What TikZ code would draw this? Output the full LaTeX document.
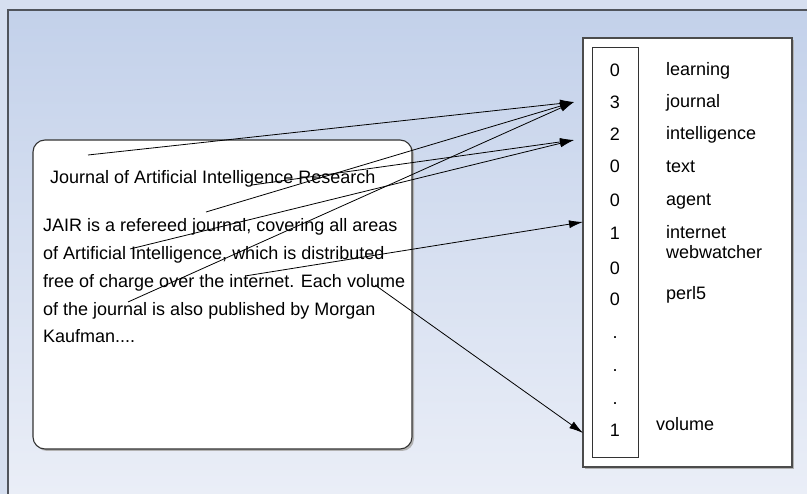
\documentclass[tikz,border=0pt]{standalone}
\usepackage{fontspec}
\setmainfont{Liberation Sans}
\usetikzlibrary{arrows.meta}
\definecolor{margin}{HTML}{D6DFF0}
\definecolor{gtop}{HTML}{C3D1EA}
\definecolor{gbot}{HTML}{EAEEF7}
\definecolor{frameline}{HTML}{50545C}
\begin{document}
\begin{tikzpicture}[x=1pt,y=-1pt,
  txt/.style={anchor=base west,inner sep=0pt,font=\fontsize{18}{22}\selectfont},
  num/.style={anchor=base,inner sep=0pt,font=\fontsize{18}{22}\selectfont},
  link/.style={draw=black,line width=0.8pt,-{Latex[length=14pt,width=8pt]}},
  panel/.style={draw=black!80,line width=1.1pt,fill=white}]
\useasboundingbox (0,0) rectangle (807,494);
\fill[margin] (0,0) rectangle (807,494);
\shade[top color=gtop,bottom color=gbot] (8,10) rectangle (807,494);
\draw[frameline,line width=1.5pt] (8,494) -- (8,10) -- (807,10);
% left document box
\fill[black!30,rounded corners=12pt] (35,142) rectangle (414,451);
\draw[panel,rounded corners=12pt] (33,140) rectangle (412,449);
\node[txt] (title) at (50,184) {Journal of Artificial Intelligence Research};
\node[txt] (p1) at (43,232) {JAIR is a refereed journal, covering all areas};
\node[txt] (p2) at (43,260) {of Artificial Intelligence, which is distributed};
\node[txt] (p3) at (43,288) {free of charge over the internet. Each volume};
\node[txt] (p4) at (43,316) {of the journal is also published by Morgan};
\node[txt] (p5) at (43,343) {Kaufman....};
% right vector box
\fill[black!30] (585,40) rectangle (794,469);
\draw[panel,draw=black!70] (583,38) rectangle (792,467);
\draw[black!80,line width=1pt] (592,48) rectangle (638,458);
\node[num] (n1) at (615,77) {0};
\node[num] (n2) at (615,109) {3};
\node[num] (n3) at (615,141) {2};
\node[num] (n4) at (615,173) {0};
\node[num] (n5) at (615,207) {0};
\node[num] (n6) at (615,240) {1};
\node[num] (n7) at (615,275) {0};
\node[num] (n8) at (615,306) {0};
\node[num] (d1) at (615,339) {.};
\node[num] (d2) at (615,372) {.};
\node[num] (d3) at (615,405) {.};
\node[num] (n9) at (615,437) {1};
\node[txt] (w1) at (666,76) {learning};
\node[txt] (w2) at (666,108) {journal};
\node[txt] (w3) at (666,140) {intelligence};
\node[txt] (w4) at (666,173) {text};
\node[txt] (w5) at (666,206) {agent};
\node[txt] (w6) at (666,239) {internet};
\node[txt] (w7) at (666,259) {webwatcher};
\node[txt] (w8) at (666,300) {perl5};
\node[txt] (w9) at (656,431) {volume};
% connector ends
\coordinate (s1) at (88,155);
\coordinate (s2) at (252,185);
\coordinate (s3) at (206,212);
\coordinate (s4) at (130,249);
\coordinate (s5) at (128,302);
\coordinate (s6) at (245,276);
\coordinate (s7) at (375,285);
\coordinate (tjournal) at (574,102);
\coordinate (tintel) at (574,140);
\coordinate (tinternet) at (583,222);
\coordinate (tvolume) at (583,433);
\draw[link] (s1) -- (tjournal);
\draw[link] (s3) -- (tjournal);
\draw[link] (s5) -- (tjournal);
\draw[link] (s2) -- (tintel);
\draw[link] (s4) -- (tintel);
\draw[link] (s6) -- (tinternet);
\draw[link] (s7) -- (tvolume);
\end{tikzpicture}
\end{document}
